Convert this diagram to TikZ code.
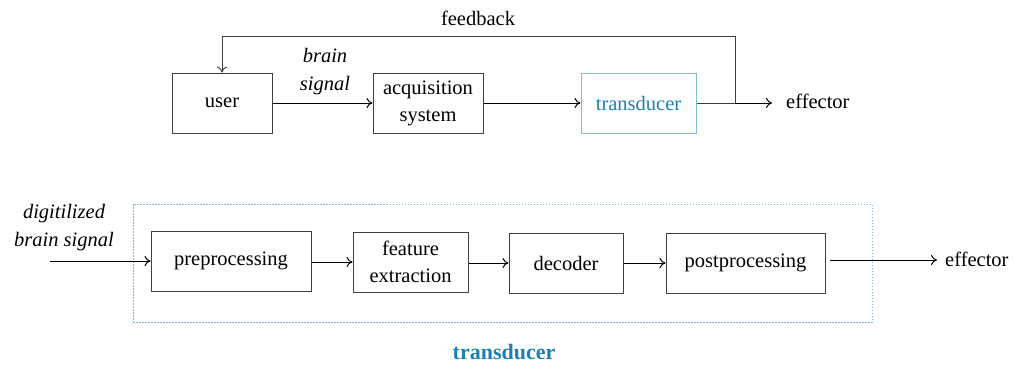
\documentclass[tikz,border=0pt]{standalone}
\usepackage{fontspec}
\setmainfont{Liberation Serif}
\usetikzlibrary{arrows.meta}
\definecolor{tblue}{HTML}{1E7FB0}
\definecolor{bblue}{HTML}{7DBBD8}
\definecolor{lgray}{HTML}{404040}
\begin{document}
\begin{tikzpicture}[x=1pt,y=-1pt,
  box/.style={draw=lgray,line width=1pt,minimum height=60pt,align=center,inner sep=0pt,font=\fontsize{20.5}{27}\selectfont},
  lbl/.style={align=center,inner sep=0pt,font=\fontsize{20.5}{27}\selectfont},
  arr/.style={draw=black,line width=1pt,-{To[length=6pt,width=10pt]}},
  ln/.style={draw=lgray,line width=1pt}]
\useasboundingbox (0,0) rectangle (1015,365);
% top row
\node[box,minimum width=100pt] (user) at (222,103) {user};
\node[box,minimum width=110pt] (acq) at (428,103) {acquisition\\system};
\node[box,minimum width=115pt,draw=bblue,text=tblue] (tr) at (638.5,103) {transducer};
\node[lbl,anchor=west] (eff1) at (786,101) {effector};
\node[lbl,font=\fontsize{20.5}{28}\selectfont\itshape] (bs) at (325,72) {brain\\signal};
\node[lbl] (fb) at (478,18) {feedback};
\coordinate (fbsplit) at (735,103);
\coordinate (eff1end) at (772,103);
\draw[arr] (user.east) -- (acq.west);
\draw[arr] (acq.east) -- (tr.west);
\draw[ln] (tr.east |- fbsplit) -- (fbsplit);
\draw[arr] (fbsplit) -- (eff1end);
\draw[arr,draw=lgray] (fbsplit) -- (735,36) -- (222,36) -- (user.north);
% bottom row
\node[draw=bblue,dash pattern=on 1.5pt off 1.5pt,line width=0.9pt,minimum width=739pt,minimum height=118pt,inner sep=0pt] (tbox) at (502.5,263) {};
\node[lbl,font=\fontsize{20.5}{28}\selectfont\itshape] (dig) at (64,228) {digitilized\\brain signal};
\coordinate (din) at (50,261);
\node[box,minimum width=160pt] (pre) at (231,261) {preprocessing};
\node[box,minimum width=115pt] (fe) at (410.5,262) {feature\\extraction};
\node[box,minimum width=114pt] (dec) at (566,263) {decoder};
\node[box,minimum width=159pt] (post) at (745.5,263) {postprocessing};
\node[lbl,anchor=west] (eff2) at (945,259) {effector};
\coordinate (postout) at (830,260);
\coordinate (eff2end) at (937,260);
\node[lbl,font=\fontsize{22}{27}\selectfont\bfseries,text=tblue] (tlabel) at (504,352) {transducer};
\draw[arr] (din) -- (pre.west |- din);
\draw[arr] (pre.east |- fe) -- (fe.west);
\draw[arr] (fe.east |- dec) -- (dec.west);
\draw[arr] (dec.east) -- (post.west);
\draw[arr] (postout) -- (eff2end);
\end{tikzpicture}
\end{document}
